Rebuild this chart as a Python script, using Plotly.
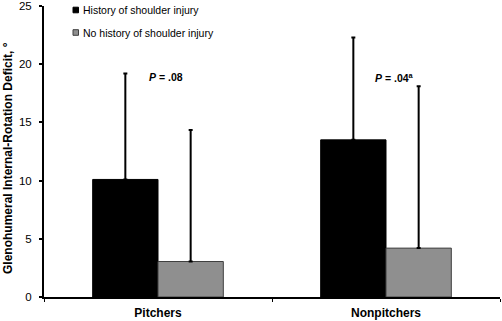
import plotly.graph_objects as go

categories = ["Pitchers", "Nonpitchers"]
history_vals = [10.1, 13.5]
history_err = [9.1, 8.8]
no_history_vals = [3.05, 4.2]
no_history_err = [11.3, 13.9]
y_ticks = [0, 5, 10, 15, 20, 25]
p_labels = ["<b><i>P</i> = .08</b>", "<b><i>P</i> = .04<sup>a</sup></b>"]
series_names = ["History of shoulder injury", "No history of shoulder injury"]
series_colors = ["black", "#8f8f8f"]
series_edges = ["black", "#404040"]

FONT = "Liberation Sans, Arial, sans-serif"
W, H = 502, 321
ML, MR, MT, MB = 44, 2, 6, 24

fig = go.Figure()
fig.add_trace(go.Bar(
    x=categories, y=history_vals, name=series_names[0],
    marker=dict(color=series_colors[0], line=dict(color=series_edges[0], width=1)),
    error_y=dict(type="data", array=history_err, arrayminus=[0, 0], symmetric=False,
                 thickness=2, width=2, color="black"),
))
fig.add_trace(go.Bar(
    x=categories, y=no_history_vals, name=series_names[1],
    marker=dict(color=series_colors[1], line=dict(color=series_edges[1], width=1)),
    error_y=dict(type="data", array=no_history_err, arrayminus=[0, 0], symmetric=False,
                 thickness=2, width=2, color="black"),
))

for i, lab in enumerate(p_labels):
    fig.add_annotation(x=categories[i], y=18.9, text=lab, showarrow=False,
                       xshift=8, yanchor="middle", font=dict(size=10.5, color="black", family=FONT))

pw, ph = W - ML - MR, H - MT - MB
def px_to_paper(xp, yp):
    return (xp - ML) / pw, 1 - (yp - MT) / ph

for i, name in enumerate(series_names):
    cy = 10 + 22.5 * i
    x0, y0 = px_to_paper(73, cy - 2.8)
    x1, y1 = px_to_paper(78.5, cy + 2.8)
    fig.add_shape(type="rect", xref="paper", yref="paper", x0=x0, x1=x1, y0=y1, y1=y0,
                  fillcolor=series_colors[i], line=dict(color=series_edges[i], width=1))
    tx, ty = px_to_paper(81, cy)
    fig.add_annotation(xref="paper", yref="paper", x=tx, y=ty, text=name, showarrow=False,
                       xanchor="left", yanchor="middle",
                       font=dict(size=10.5, family=FONT, color="black"))

tx, ty = px_to_paper(8, 158)
fig.add_annotation(xref="paper", yref="paper", x=tx, y=ty, textangle=-90,
                   text="<b>Glenohumeral Internal-Rotation Deficit, °</b>", showarrow=False,
                   xanchor="center", yanchor="middle",
                   font=dict(size=12, family=FONT, color="black"))

fig.update_layout(
    width=W, height=H,
    margin=dict(l=ML, r=MR, t=MT, b=MB, autoexpand=False),
    plot_bgcolor="white", paper_bgcolor="white",
    barmode="group", bargap=0.427, bargroupgap=0,
    font=dict(family=FONT, color="black", size=12),
    showlegend=False,
    xaxis=dict(showline=True, linecolor="black", linewidth=2, tickson="boundaries",
               ticks="outside", ticklen=3, tickwidth=1, tickcolor="black",
               tickfont=dict(size=12, family=FONT), showgrid=False, automargin=False,
               ticklabelstandoff=4,
               tickprefix="<b>", ticksuffix="</b>"),
    yaxis=dict(range=[0, 25], tickvals=y_ticks, showline=True, linecolor="black", linewidth=2,
               ticks="outside", ticklen=3, tickwidth=2, tickcolor="black", showgrid=False,
               zeroline=False, tickfont=dict(size=11.5, family=FONT), automargin=False,
               ticklabelstandoff=5, ticklabeloverflow="allow"),
)

fig.write_html("out.html", config={"displayModeBar": False},
               post_script="document.body.style.margin='0';document.body.style.padding='0';")
